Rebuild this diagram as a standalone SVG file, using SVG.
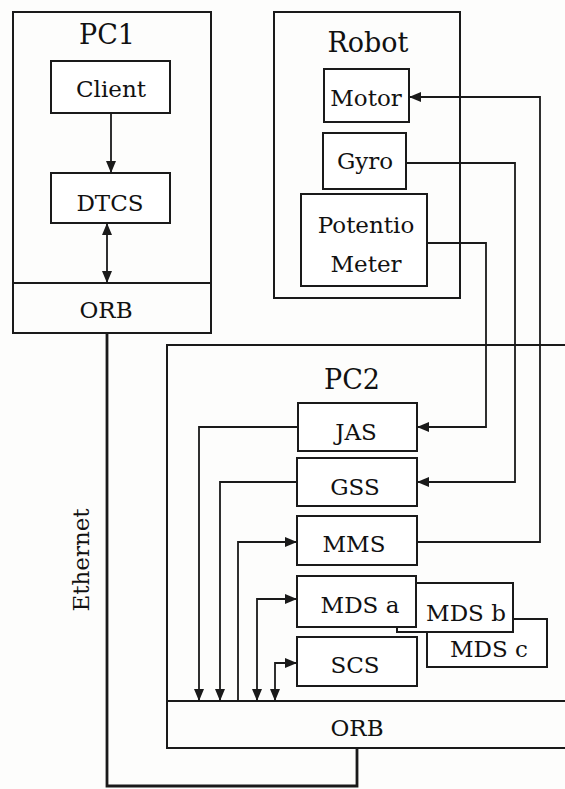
<svg xmlns="http://www.w3.org/2000/svg" width="565" height="789" viewBox="0 0 565 789">
<style>
.bx{fill:#fff;stroke:#1a1a1a;stroke-width:2}
.fr{fill:none;stroke:#1a1a1a;stroke-width:2}
.ln{fill:none;stroke:#1a1a1a;stroke-width:1.8}
.t{font-family:"DejaVu Serif","Liberation Serif",serif;font-size:23px;fill:#111;text-anchor:middle}
.tt{font-family:"DejaVu Serif","Liberation Serif",serif;font-size:27px;fill:#111;text-anchor:middle}
</style>
<defs>
<marker id="ah" viewBox="0 0 12 10" refX="12" refY="5" markerWidth="12" markerHeight="10" markerUnits="userSpaceOnUse" orient="auto-start-reverse">
<path d="M0,0 L12,5 L0,10 z" fill="#1a1a1a"/>
</marker>
</defs>
<rect width="565" height="789" fill="#fdfdfc"/>
<g id="pc1">
<rect class="fr" x="13" y="12" width="198" height="321"/>
<line class="fr" x1="13" y1="283" x2="211" y2="283"/>
<text class="tt" x="107" y="44">PC1</text>
<text class="t" x="106" y="318">ORB</text>
</g>
<g id="client"><rect class="bx" x="51" y="61" width="119" height="52"/><text class="t" x="111" y="97">Client</text></g>
<g id="dtcs"><rect class="bx" x="51" y="173" width="119" height="50"/><text class="t" x="110" y="211">DTCS</text></g>
<g id="robot">
<rect class="fr" x="274" y="12" width="186" height="286"/>
<text class="tt" x="368" y="52">Robot</text>
</g>
<g id="motor"><rect class="bx" x="324" y="69" width="85" height="53"/><text class="t" x="366" y="106">Motor</text></g>
<g id="gyro"><rect class="bx" x="323" y="133" width="83" height="56"/><text class="t" x="365" y="169">Gyro</text></g>
<g id="potentio"><rect class="bx" x="301" y="194" width="126" height="92"/><text class="t" x="366" y="233">Potentio</text><text class="t" x="366" y="272">Meter</text></g>
<g id="pc2">
<path class="fr" d="M565,345 H167 V748 H565"/>
<line class="fr" x1="167" y1="701" x2="565" y2="701"/>
<text class="tt" x="352" y="389">PC2</text>
<text class="t" x="357" y="736">ORB</text>
</g>
<g id="jas"><rect class="bx" x="298" y="403" width="119" height="48"/><text class="t" x="356" y="440">JAS</text></g>
<g id="gss"><rect class="bx" x="297" y="458" width="120" height="48"/><text class="t" x="355" y="495">GSS</text></g>
<g id="mms"><rect class="bx" x="297" y="516" width="120" height="49"/><text class="t" x="354" y="552">MMS</text></g>
<g id="mdsc"><rect class="bx" x="427" y="619" width="120" height="48"/><text class="t" x="489" y="657">MDS c</text></g>
<g id="mdsb"><rect class="bx" x="397" y="583" width="116" height="49"/><text class="t" x="466" y="621">MDS b</text></g>
<g id="mdsa"><rect class="bx" x="297" y="576" width="119" height="51"/><text class="t" x="360" y="613">MDS a</text></g>
<g id="scs"><rect class="bx" x="297" y="637" width="120" height="49"/><text class="t" x="355" y="673">SCS</text></g>
<g id="ethernet-label"><text class="t" transform="translate(89,560) rotate(-90)">Ethernet</text></g>
<g id="connectors">
<path class="ln" d="M111,113 V173" marker-end="url(#ah)"/>
<path class="ln" d="M107,223 V283" marker-start="url(#ah)" marker-end="url(#ah)"/>
<path class="ln" d="M417,542 H540 V97 H409" marker-end="url(#ah)"/>
<path class="ln" d="M406,163 H515 V482 H417" marker-end="url(#ah)"/>
<path class="ln" d="M427,243 H486 V427 H417" marker-end="url(#ah)"/>
<path class="ln" d="M298,427 H199 V701" marker-end="url(#ah)"/>
<path class="ln" d="M297,482 H220 V701" marker-end="url(#ah)"/>
<path class="ln" d="M238,701 V542 H297" marker-end="url(#ah)"/>
<path class="ln" d="M257,701 V599 H297" marker-start="url(#ah)" marker-end="url(#ah)"/>
<path class="ln" d="M275,701 V663 H297" marker-start="url(#ah)" marker-end="url(#ah)"/>
<path fill="none" stroke="#1a1a1a" stroke-width="2.8" d="M107,333 V786 H357 V748"/>
</g>
</svg>
